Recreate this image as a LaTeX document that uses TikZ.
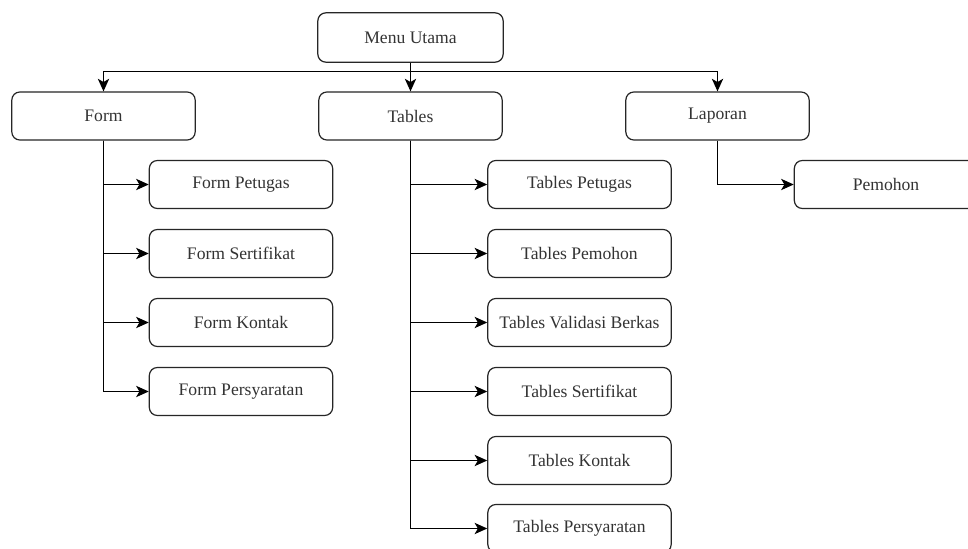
\documentclass[tikz,border=0pt]{standalone}
\usepackage{fontspec}
\setmainfont{Liberation Serif}
\usetikzlibrary{arrows.meta}
\begin{document}
\begin{tikzpicture}[x=0.75pt,y=-0.75pt,
  box/.style={draw=black!85, line width=0.9pt, rounded corners=6pt, minimum width=137.5pt, minimum height=36pt, inner sep=0pt, font=\rmfamily\fontsize{13.2pt}{15pt}\selectfont, text=black!80},
  arr/.style={draw=black, line width=0.9pt, -{Stealth[length=9.5pt,width=8.5pt,inset=2.5pt]}},
  ln/.style={draw=black, line width=0.9pt}]
\useasboundingbox (0,0) rectangle (968,549);
\clip (0,0) rectangle (968,549);
\fill[white] (0,0) rectangle (968,549);
% top level
\node[box, minimum width=139pt, minimum height=37pt] (menu) at (410.5,37.5) {Menu Utama};
\node[box] (form) at (103.5,116) {Form};
\node[box] (tables) at (410.5,116) {Tables};
\node[box] (laporan) at (717.5,116) {Laporan};
% form children
\node[box] (fp) at (241,184.5) {Form Petugas};
\node[box] (fs) at (241,253.5) {Form Sertifikat};
\node[box] (fk) at (241,322.5) {Form Kontak};
\node[box] (fpers) at (241,391.5) {Form Persyaratan};
% tables children
\node[box] (tp) at (579.5,184.5) {Tables Petugas};
\node[box] (tpem) at (579.5,253.5) {Tables Pemohon};
\node[box] (tvb) at (579.5,322.5) {Tables Validasi Berkas};
\node[box] (ts) at (579.5,391.5) {Tables Sertifikat};
\node[box] (tk) at (579.5,460.5) {Tables Kontak};
\node[box] (tpers) at (579.5,528.5) {Tables Persyaratan};
% laporan child
\node[box] (pem) at (886,184.5) {Pemohon};
% connectors
\coordinate (bus) at (410.5,71.5);
\draw[ln] (form.south) -- (form.south |- fpers.west);
\draw[ln] (tables.south) -- (tables.south |- tpers.west);
\draw[ln] (bus -| form.north) -- (bus -| laporan.north);
\draw[arr] (menu.south) -- (bus) -| (form.north);
\draw[arr] (menu.south) -- (bus) -| (laporan.north);
\draw[arr] (menu.south) -- (tables.north);
\foreach \c in {fp,fs,fk,fpers}{\draw[arr] (form.south) |- (\c.west);}
\foreach \c in {tp,tpem,tvb,ts,tk,tpers}{\draw[arr] (tables.south) |- (\c.west);}
\draw[arr] (laporan.south) |- (pem.west);
\end{tikzpicture}
\end{document}
